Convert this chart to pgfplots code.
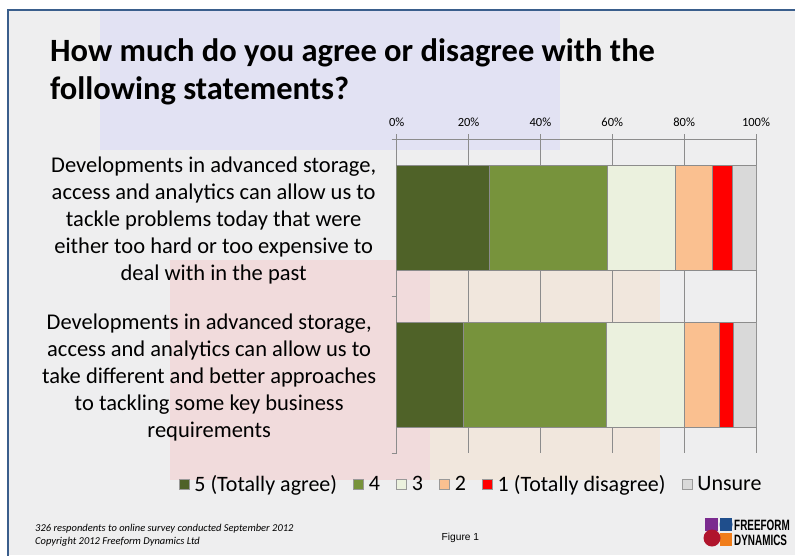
\documentclass[border=0pt]{standalone}
\usepackage{pgfplots}
\pgfplotsset{compat=1.18}
\usepackage{fontspec}
\setmainfont{Carlito}
\newfontfamily\arialf{Liberation Sans}
\definecolor{cfive}{HTML}{4F6228}
\definecolor{cfour}{HTML}{77933C}
\definecolor{cthree}{HTML}{EBF1DE}
\definecolor{ctwo}{HTML}{FAC090}
\definecolor{cone}{HTML}{FF0000}
\definecolor{cunsure}{HTML}{D9D9D9}
\definecolor{bgcol}{HTML}{EEEEEF}
\definecolor{framecol}{HTML}{3A5E8C}
\definecolor{gridcol}{HTML}{8C8C8C}
\definecolor{logopurple}{HTML}{7B2B8F}
\definecolor{logoblue}{HTML}{1F4E8C}
\definecolor{logored}{HTML}{B0142C}
\definecolor{logoorange}{HTML}{F07D1A}
\pgfplotsset{lg/.style={legend image code/.code={\draw[##1, draw=gray!80] (0pt,-5pt) rectangle (10pt,5pt);}}}
\begin{document}
\begin{tikzpicture}
\fill[white] (0pt,0pt) rectangle (795pt,-555pt);
\useasboundingbox (0pt,0pt) rectangle (795pt,-555pt);
\begin{scope}[x=1pt,y=-1pt]
\fill[bgcol] (8,10) rectangle (795,555);
% faint background shapes
\fill[blue!25!white, opacity=0.25] (100,10) rectangle (560,150);
\fill[red!40!white, opacity=0.22] (170,260) rectangle (430,480);
\fill[orange!40!white, opacity=0.2] (430,270) rectangle (660,480);
\draw[framecol, line width=1.5pt] (8,556) -- (8,10) -- (796,10);
% title
\node[anchor=base west, inner sep=0pt, font=\fontsize{32.5}{38}\selectfont\bfseries] at (50,61) {How much do you agree or disagree with the};
\node[anchor=base west, inner sep=0pt, font=\fontsize{32.5}{38}\selectfont\bfseries] at (50,99) {following statements?};
% footnotes
\node[anchor=base west, inner sep=0pt, font=\fontsize{10.5}{12}\selectfont\itshape] at (35,531) {326 respondents to online survey conducted September 2012};
\node[anchor=base west, inner sep=0pt, font=\fontsize{10.5}{12}\selectfont\itshape] at (35,544) {Copyright 2012 Freeform Dynamics Ltd};
\node[anchor=base west, inner sep=0pt, font=\arialf\fontsize{10.2}{12}\selectfont] at (441.5,540) {Figure 1};
% logo
\fill[logopurple] (705,518) rectangle (718,531);
\fill[logoblue] (720,518) rectangle (732,531) ;
\fill[logoblue] (726,524.5) circle (6.5);
\fill[logoorange] (720,533) rectangle (732,546);
\fill[logored] (712,538) circle (8.5);
\node[anchor=west, inner sep=0pt, font=\arialf\bfseries\fontsize{15}{15}\selectfont] at (734,525) {\scalebox{0.66}[1]{FREEFORM}};
\node[anchor=west, inner sep=0pt, font=\arialf\bfseries\fontsize{15}{15}\selectfont] at (734,540) {\scalebox{0.66}[1]{DYNAMICS}};
\end{scope}
\begin{axis}[
  at={(396.7pt,-139pt)}, anchor=north west,
  scale only axis, width=359.3pt, height=314pt,
  xbar stacked, bar width=105pt,
  xmin=0, xmax=100, ymin=-0.5, ymax=1.5, y dir=reverse,
  axis x line*=top, axis y line*=left,
  axis line style={gridcol, line width=0.8pt},
  tick align=outside,
  major tick length=5pt,
  tick style={gridcol, line width=0.8pt},
  xtick={0,20,40,60,80,100},
  xticklabel={\pgfmathprintnumber[assume math mode=true]{\tick}\%},
  xticklabel style={font=\fontsize{12.5}{14}\selectfont, yshift=4pt},
  xmajorgrids, grid style={gridcol, line width=0.8pt},
  ytick={-0.5,0.5,1.5}, yticklabels={},
  extra y ticks={0,1},
  extra y tick labels={{Developments in advanced storage,\\access and analytics can allow us to\\tackle problems today that were\\either too hard or too expensive to\\deal with in the past},{Developments in advanced storage,\\access and analytics can allow us to\\take different and better approaches\\to tackling some key business\\requirements}},
  extra y tick style={major tick length=0pt, yticklabel style={align=center, font=\fontsize{22.5}{26.8}\selectfont, xshift=-17pt, yshift=-3pt}},
  legend columns=6,
  legend style={draw=none, fill=none, font=\fontsize{22}{26}\selectfont, at={(1.03,-0.099)}, anchor=east,
    /tikz/every odd column/.append style={column sep=3pt}, /tikz/every even column/.append style={column sep=14pt}},
  legend cell align=left,
]
\addplot[fill=cfive, draw=gridcol, line width=0.8pt, lg] coordinates {(25.8,0) (18.6,1)};
\addplot[fill=cfour, draw=gridcol, line width=0.8pt, lg] coordinates {(32.9,0) (39.8,1)};
\addplot[fill=cthree, draw=gridcol, line width=0.8pt, lg] coordinates {(18.9,0) (21.8,1)};
\addplot[fill=ctwo, draw=gridcol, line width=0.8pt, lg] coordinates {(10.4,0) (9.7,1)};
\addplot[fill=cone, draw=gridcol, line width=0.8pt, lg] coordinates {(5.3,0) (3.9,1)};
\addplot[fill=cunsure, draw=gridcol, line width=0.8pt, lg] coordinates {(6.7,0) (6.2,1)};
\legend{5 (Totally agree),4,3,2,1 (Totally disagree),Unsure}
\end{axis}
\end{tikzpicture}
\end{document}
